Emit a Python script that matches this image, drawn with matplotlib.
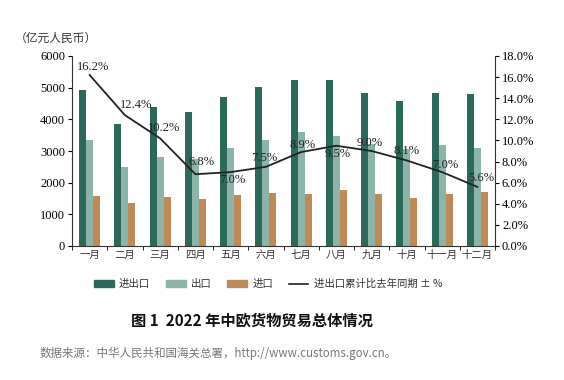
import matplotlib
matplotlib.use("Agg")
import matplotlib.pyplot as plt
import numpy as np
from matplotlib.patches import Patch
from matplotlib.lines import Line2D
from matplotlib.ticker import FuncFormatter, FixedLocator

plt.rcParams['font.family'] = ['Noto Sans CJK SC', 'DejaVu Sans']

months = ["一月", "二月", "三月", "四月", "五月", "六月", "七月", "八月", "九月", "十月", "十一月", "十二月"]
total = [4920, 3850, 4380, 4240, 4700, 5030, 5230, 5250, 4840, 4590, 4820, 4790]
exports = [3360, 2490, 2820, 2750, 3090, 3360, 3610, 3480, 3210, 3070, 3190, 3100]
imports = [1570, 1350, 1560, 1490, 1610, 1670, 1630, 1760, 1630, 1510, 1630, 1710]
growth = [16.2, 12.4, 10.2, 6.8, 7.0, 7.5, 8.9, 9.5, 9.0, 8.1, 7.0, 5.6]
growth_labels = ["16.2%", "12.4%", "10.2%", "6.8%", "7.0%", "7.5%", "8.9%", "9.5%", "9.0%", "8.1%", "7.0%", "5.6%"]
label_offsets = [(3, 8), (11, 10), (4, 10), (6, 12), (2, -8), (-2, 9),
                 (1, 7), (1, -8), (-2, 8), (0, 9), (3, 7), (4, 9)]

c_total = "#2b6a5a"
c_exp = "#8cb5a9"
c_imp = "#bf8a55"
c_line = "#222222"

fig = plt.figure(figsize=(5.64, 3.80), dpi=100)
ax = fig.add_axes([72/564, 1-246/380, (495-72)/564, (246-56)/380])
x = np.arange(len(months))
w = 0.2
ax.bar(x - w, total, w, color=c_total, zorder=2)
ax.bar(x, exports, w, color=c_exp, zorder=2)
ax.bar(x + w, imports, w, color=c_imp, zorder=2)
ax.set_xlim(-0.5, len(months) - 0.5)
ax.set_ylim(0, 6000)
ax.set_yticks(range(0, 6001, 1000))
serif = 'Liberation Serif'
for lab in ax.get_yticklabels():
    lab.set_fontfamily(serif)
    lab.set_fontsize(9)
ax.set_xticks(x)
ax.set_xticklabels(months, fontsize=7.5, color="#333333")
ax.xaxis.set_minor_locator(FixedLocator(np.arange(-0.5, len(months), 1.0)))
ax.tick_params(axis='x', which='major', length=0, pad=3)
ax.tick_params(axis='x', which='minor', length=3, direction='out')
ax.tick_params(axis='y', length=3, direction='out', pad=2)
ax.spines['top'].set_visible(False)
ax.spines['right'].set_visible(False)
for s in ['left', 'bottom']:
    ax.spines[s].set_color("#333333")

ax2 = ax.twinx()
ax2.plot(x, growth, color=c_line, lw=1.3, zorder=3)
ax2.set_ylim(0, 18)
ax2.set_yticks(np.arange(0, 18.1, 2))
ax2.yaxis.set_major_formatter(FuncFormatter(lambda v, p: f"{v:.1f}%"))
for lab in ax2.get_yticklabels():
    lab.set_fontfamily(serif)
    lab.set_fontsize(9)
ax2.tick_params(axis='y', length=3, direction='out', pad=2)
ax2.spines['top'].set_visible(False)
ax2.spines['left'].set_visible(False)
ax2.spines['bottom'].set_visible(False)
ax2.spines['right'].set_color("#333333")
for xi, g, lab, off in zip(x, growth, growth_labels, label_offsets):
    ax2.annotate(lab, (xi, g), xytext=off, textcoords='offset pixels',
                 ha='center', va='center', fontsize=9, fontfamily=serif, color="#222222")

fig.text(15/564, 1-38/380, "（亿元人民币）", fontsize=8.5, ha='left', va='center', color="#333333")

handles = [Patch(color=c_total), Patch(color=c_exp), Patch(color=c_imp),
           Line2D([0], [0], color=c_line, lw=1.2)]
labels = ["进出口", "出口", "进口", "进出口累计比去年同期 ± %"]
fig.legend(handles, labels, loc='center', bbox_to_anchor=(268/564, 1-284/380), ncol=4,
           frameon=False, fontsize=7.5, handlelength=1.9, handleheight=0.6,
           columnspacing=1.5, handletextpad=0.5, labelcolor="#333333")

fig.text(252/564, 1-320/380, "图 1  2022 年中欧货物贸易总体情况", fontsize=11, fontweight='bold',
         ha='center', va='center', color="#111111")
fig.text(40/564, 1-353/380, "数据来源：中华人民共和国海关总署，http://www.customs.gov.cn。", fontsize=8.3,
         ha='left', va='center', color="#777777")

fig.savefig("out.png", dpi=100)
